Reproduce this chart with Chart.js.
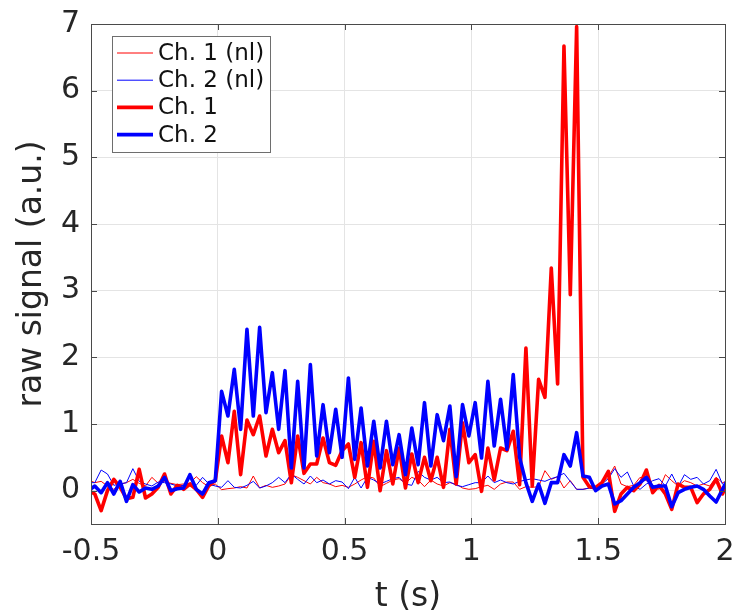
<!DOCTYPE html>
<html>
<head>
<meta charset="utf-8">
<script src="https://cdn.jsdelivr.net/npm/chart.js@4.4.1/dist/chart.umd.min.js"></script>
<style>
    html, body { margin: 0; padding: 0; background: #fff; }
</style>
</head>
<body>
<canvas id="signal-chart" width="735" height="614"></canvas>
<script>
// sample times (s)
const times = [
    -0.51, -0.485, -0.46, -0.435, -0.41, -0.385, -0.36, -0.335, -0.31, -0.285,
    -0.26, -0.235, -0.21, -0.185, -0.16, -0.135, -0.11, -0.085, -0.06, -0.035,
    -0.01, 0.015, 0.04, 0.065, 0.09, 0.115, 0.14, 0.165, 0.19, 0.215,
    0.24, 0.265, 0.29, 0.315, 0.34, 0.365, 0.39, 0.415, 0.44, 0.465,
    0.49, 0.515, 0.54, 0.565, 0.59, 0.615, 0.64, 0.665, 0.69, 0.715,
    0.74, 0.765, 0.79, 0.815, 0.84, 0.865, 0.89, 0.915, 0.94, 0.965,
    0.99, 1.015, 1.04, 1.065, 1.09, 1.115, 1.14, 1.165, 1.19, 1.215,
    1.24, 1.265, 1.29, 1.315, 1.34, 1.365, 1.39, 1.415, 1.44, 1.465,
    1.49, 1.515, 1.54, 1.565, 1.59, 1.615, 1.64, 1.665, 1.69, 1.715,
    1.74, 1.765, 1.79, 1.815, 1.84, 1.865, 1.89, 1.915, 1.94, 1.965,
    1.99, 2.015
];

// Ch. 1 (nl)
const ch1Raw = [
    0.16, 0.12, 0.14, 0.07, 0.02, 0.1, 0.12, 0.17, 0.11, 0.07,
    0.2, 0.11, 0.14, 0.11, 0.09, 0.1, 0.11, 0.21, 0.12, 0.06,
    0.1, 0.015, 0.03, 0.04, 0.06, 0.04, 0.22, 0.04, 0.08, 0.05,
    0.07, 0.1, 0.24, 0.2, 0.15, 0.1, 0.2, 0.12, 0.1, 0.06,
    0.08, 0.05, 0.1, 0.16, 0.21, 0.19, 0.06, 0.11, 0.16, 0.18,
    0.11, 0.2, 0.16, 0.06, 0.16, 0.1, 0.07, 0.12, 0.1, 0.04,
    0.02, 0.03, 0.06, 0.08, 0.02, 0.1, 0.13, 0.13, 0.02, 0.06,
    0.05, 0.06, 0.3, 0.17, 0.21, 0.04, 0.15, 0.02, 0.02, 0.04,
    0.02, 0.12, 0.2, 0.37, 0.1, 0.06, 0.08, 0.2, 0.15, 0.08,
    0.02, 0.24, 0.15, 0.07, 0.15, 0.12, 0.07, 0.1, 0.07, 0.2,
    0.12, 0.15
];

// Ch. 2 (nl)
const ch2Raw = [
    0.12, 0.12, 0.31, 0.25, 0.08, 0.1, 0.12, 0.33, 0.14, 0.1,
    0.07, 0.13, 0.12, 0.1, 0.07, 0.08, 0.07, 0.08, 0.2, 0.1,
    0.07, 0.05, 0.15, 0.05, 0.04, 0.08, 0.14, 0.04, 0.07, 0.12,
    0.2, 0.12, 0.25, 0.17, 0.1, 0.22, 0.12, 0.16, 0.1, 0.15,
    0.13, 0.03, 0.2, 0.04, 0.2, 0.16, 0.1, 0.14, 0.18, 0.2,
    0.1, 0.08, 0.29, 0.2, 0.16, 0.2, 0.12, 0.13, 0.08, 0.06,
    0.09, 0.12, 0.12, 0.22, 0.12, 0.16, 0.12, 0.1, 0.14, 0.16,
    0.18, 0.16, 0.14, 0.18, 0.21, 0.26, 0.14, 0.02, 0.02, 0.04,
    0.02, 0.1, 0.18, 0.33, 0.2, 0.28, 0.07, 0.02, 0.1, 0.15,
    0.18, 0.07, 0.25, 0.06, 0.24, 0.17, 0.2, 0.1, 0.15, 0.32,
    0.1, 0.05
];

// Ch. 1
const ch1 = [
    0.0, -0.05, -0.3, 0.0, 0.17, 0.05, -0.12, -0.1, 0.32, -0.11,
    -0.05, 0.05, 0.25, -0.05, 0.08, 0.02, 0.1, 0.02, -0.1, 0.08,
    0.15, 0.82, 0.42, 1.19, 0.24, 1.06, 0.84, 1.12, 0.52, 0.92,
    0.57, 0.75, 0.12, 0.82, 0.26, 0.4, 0.4, 0.79, 0.42, 0.38,
    0.6, 0.7, 0.2, 0.72, 0.05, 0.74, 0.0, 0.6, 0.1, 0.64,
    0.04, 0.55, 0.12, 0.5, 0.15, 0.5, 0.05, 0.92, 0.1, 1.02,
    0.42, 0.54, -0.01, 0.64, 0.16, 0.64, 0.6, 0.89, 0.09, 2.14,
    0.07, 1.67, 1.4, 3.34, 1.6, 6.67, 2.94, 6.96, 0.2, 0.06,
    0.05, 0.12, 0.29, -0.31, -0.05, 0.05, 0.0, 0.1, 0.31, -0.03,
    0.08, -0.05, -0.28, 0.1, 0.05, 0.05, -0.18, -0.05, 0.02, 0.17,
    -0.05, 0.15
];

// Ch. 2
const ch2 = [
    0.0, 0.07, -0.03, 0.12, -0.05, 0.14, -0.16, 0.09, -0.02, 0.04,
    0.02, 0.07, 0.2, 0.0, 0.03, 0.04, 0.24, 0.02, -0.05, 0.12,
    0.15, 1.49, 1.12, 1.82, 0.92, 2.42, 1.12, 2.45, 1.17, 1.77,
    0.92, 1.8, 0.34, 1.64, 0.34, 1.89, 0.52, 1.29, 0.57, 1.22,
    0.5, 1.69, 0.47, 1.24, 0.37, 1.04, 0.34, 1.04, 0.39, 0.84,
    0.24, 0.94, 0.39, 1.32, 0.37, 1.14, 0.75, 1.27, 0.21, 1.29,
    0.82, 1.32, 0.49, 1.64, 0.67, 1.37, 0.62, 1.74, 0.5, 0.12,
    -0.16, 0.1, -0.19, 0.12, 0.12, 0.54, 0.37, 0.87, 0.22, 0.2,
    0.0, 0.07, 0.1, -0.2, -0.15, -0.05, 0.05, 0.12, 0.2, 0.05,
    0.07, 0.07, -0.24, -0.03, 0.02, 0.05, 0.07, 0.02, -0.08, -0.17,
    0.02, 0.2
];

const xTicks = [-0.5, 0, 0.5, 1, 1.5, 2];
const yTicks = [0, 1, 2, 3, 4, 5, 6, 7];
const seriesLabels = ['Ch. 1 (nl)', 'Ch. 2 (nl)', 'Ch. 1', 'Ch. 2'];

const FONT = 'DejaVu Sans';
const AXIS_COLOR = '#4a4a4a';
const TEXT_COLOR = '#262626';

document.addEventListener('DOMContentLoaded', function() {
    initSignalChart();
});

function toPoints(values) {
    return times.map((t, i) => ({ x: t, y: values[i] }));
}

// MATLAB style box with inward ticks
const axisBox = {
    id: 'axisBox',
    afterDatasetsDraw(chart) {
        const ctx = chart.ctx;
        const a = chart.chartArea;
        const xs = chart.scales.x;
        const ys = chart.scales.y;
        const len = 6;

        ctx.save();
        ctx.strokeStyle = AXIS_COLOR;
        ctx.lineWidth = 1;
        ctx.strokeRect(Math.round(a.left) + 0.5, Math.round(a.top) + 0.5,
            Math.round(a.right - a.left), Math.round(a.bottom - a.top));

        ctx.beginPath();
        xTicks.forEach(v => {
            const px = Math.round(xs.getPixelForValue(v)) + 0.5;
            ctx.moveTo(px, a.bottom);
            ctx.lineTo(px, a.bottom - len);
            ctx.moveTo(px, a.top);
            ctx.lineTo(px, a.top + len);
        });
        yTicks.forEach(v => {
            const py = Math.round(ys.getPixelForValue(v)) + 0.5;
            ctx.moveTo(a.left, py);
            ctx.lineTo(a.left + len, py);
            ctx.moveTo(a.right, py);
            ctx.lineTo(a.right - len, py);
        });
        ctx.stroke();
        ctx.restore();
    }
};

// legend box in the upper left corner of the axes
const boxLegend = {
    id: 'boxLegend',
    afterDraw(chart) {
        const ctx = chart.ctx;
        const a = chart.chartArea;
        const left = a.left + 21;
        const top = a.top + 12;
        const width = 158;
        const height = 116;
        const rowGap = 27.2;

        ctx.save();
        ctx.fillStyle = '#fff';
        ctx.fillRect(left, top, width, height);
        ctx.strokeStyle = '#6e6e6e';
        ctx.lineWidth = 1;
        ctx.strokeRect(Math.round(left) + 0.5, Math.round(top) + 0.5, width, height);

        ctx.font = '23px "' + FONT + '"';
        ctx.textBaseline = 'middle';
        ctx.textAlign = 'left';

        seriesLabels.forEach((label, i) => {
            const ds = chart.data.datasets.find(d => d.label === label);
            const y = top + 17 + i * rowGap;
            ctx.strokeStyle = ds.borderColor;
            ctx.lineWidth = ds.borderWidth;
            ctx.beginPath();
            ctx.moveTo(left + 5, y);
            ctx.lineTo(left + 41, y);
            ctx.stroke();
            ctx.fillStyle = '#111';
            ctx.fillText(label, left + 46, y + 1);
        });
        ctx.restore();
    }
};

function initSignalChart() {
    const ctx = document.getElementById('signal-chart').getContext('2d');

    const lineDefaults = {
        pointRadius: 0,
        pointHoverRadius: 0,
        tension: 0,
        fill: false,
        clip: 0,
        borderJoinStyle: 'round',
        borderCapStyle: 'round'
    };

    new Chart(ctx, {
        type: 'line',
        data: {
            datasets: [{
                ...lineDefaults,
                label: 'Ch. 2',
                data: toPoints(ch2),
                borderColor: '#0000ff',
                borderWidth: 3.6,
                order: 0
            }, {
                ...lineDefaults,
                label: 'Ch. 1',
                data: toPoints(ch1),
                borderColor: '#ff0000',
                borderWidth: 3.6,
                order: 1
            }, {
                ...lineDefaults,
                label: 'Ch. 2 (nl)',
                data: toPoints(ch2Raw),
                borderColor: '#0000ff',
                borderWidth: 1,
                order: 2
            }, {
                ...lineDefaults,
                label: 'Ch. 1 (nl)',
                data: toPoints(ch1Raw),
                borderColor: '#ff0000',
                borderWidth: 1,
                order: 3
            }]
        },
        options: {
            responsive: false,
            animation: false,
            devicePixelRatio: 1,
            layout: {
                padding: { top: 24, right: 10, bottom: 0, left: 0 }
            },
            plugins: {
                legend: { display: false },
                tooltip: { enabled: false }
            },
            scales: {
                x: {
                    type: 'linear',
                    min: -0.5,
                    max: 2,
                    border: { display: false },
                    grid: {
                        color: '#e4e4e4',
                        drawTicks: false
                    },
                    ticks: {
                        color: TEXT_COLOR,
                        font: { family: FONT, size: 30 },
                        padding: 10,
                        maxRotation: 0,
                        callback: v => String(v)
                    },
                    afterBuildTicks: scale => {
                        scale.ticks = xTicks.map(v => ({ value: v }));
                    },
                    afterFit: scale => {
                        scale.height = 90;
                        scale.paddingLeft = 0;
                        scale.paddingRight = 0;
                    },
                    title: {
                        display: true,
                        text: 't (s)',
                        color: TEXT_COLOR,
                        font: { family: FONT, size: 33 },
                        padding: { top: 0, bottom: -3 }
                    }
                },
                y: {
                    type: 'linear',
                    min: -0.5,
                    max: 7,
                    border: { display: false },
                    grid: {
                        color: '#e4e4e4',
                        drawTicks: false
                    },
                    ticks: {
                        color: TEXT_COLOR,
                        font: { family: FONT, size: 30 },
                        padding: 11,
                        callback: v => String(v)
                    },
                    afterBuildTicks: scale => {
                        scale.ticks = yTicks.map(v => ({ value: v }));
                    },
                    afterFit: scale => {
                        scale.width = 91;
                        scale.paddingTop = 0;
                        scale.paddingBottom = 0;
                    },
                    title: {
                        display: true,
                        text: 'raw signal (a.u.)',
                        color: TEXT_COLOR,
                        font: { family: FONT, size: 33 },
                        padding: { top: 13, bottom: 0 }
                    }
                }
            }
        },
        plugins: [axisBox, boxLegend]
    });
}
</script>
</body>
</html>
